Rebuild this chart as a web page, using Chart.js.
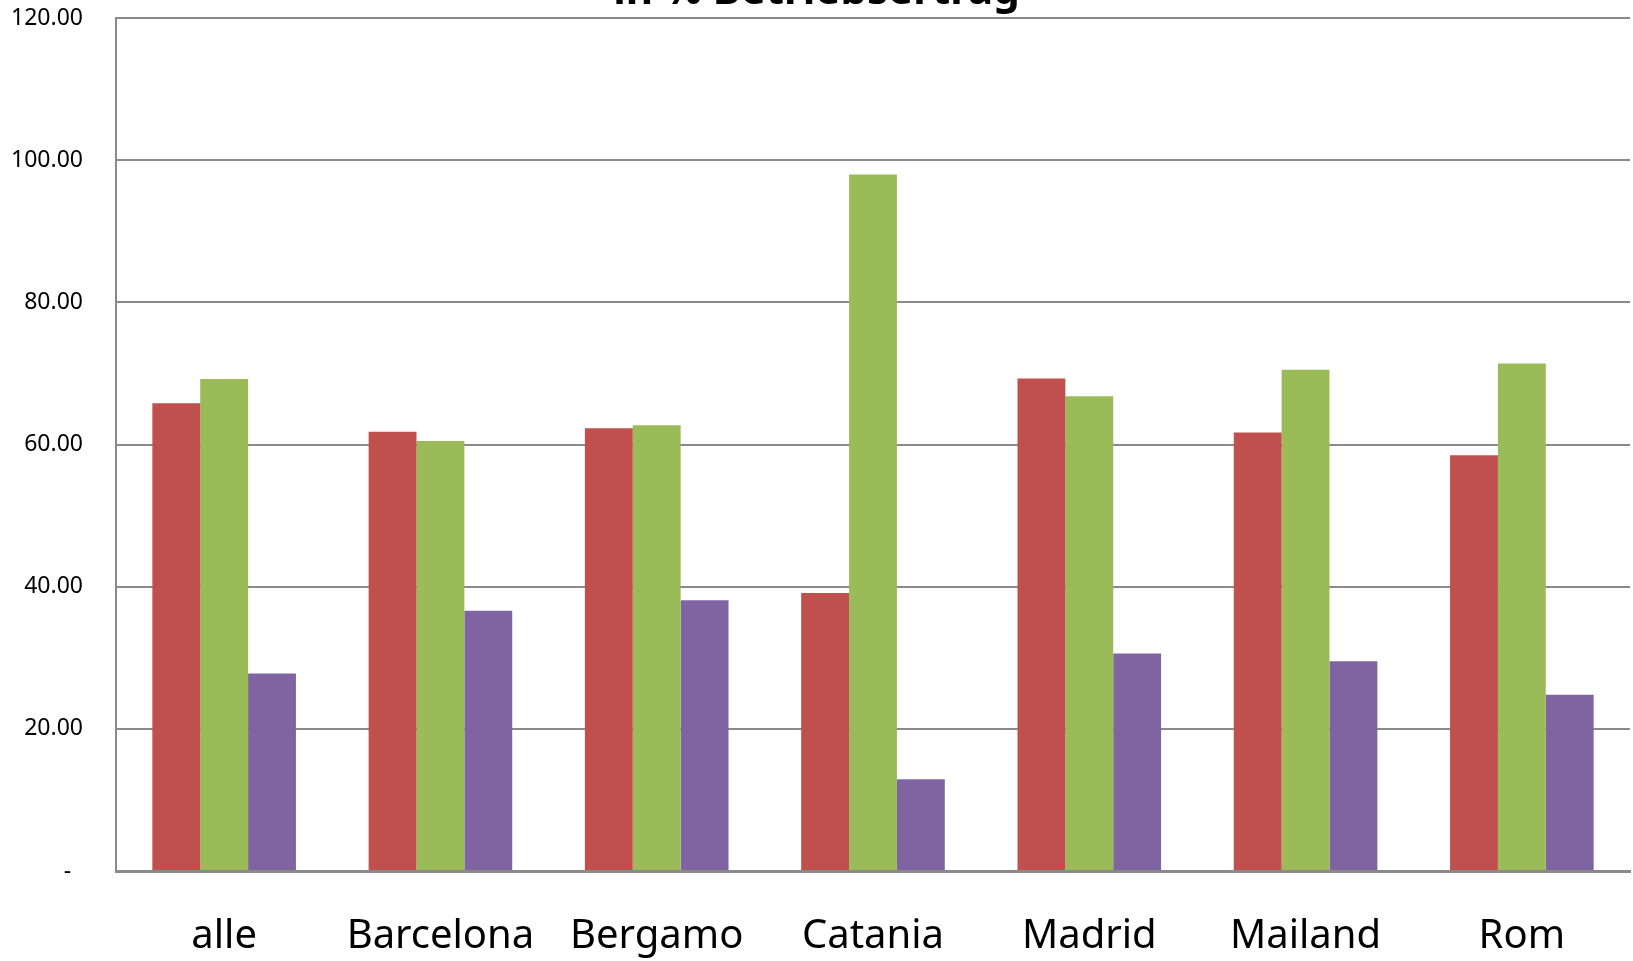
<!DOCTYPE html>
<html>
<head>
<meta charset="utf-8">
<script src="https://cdn.jsdelivr.net/npm/chart.js@4.4.1/dist/chart.umd.min.js"></script>
<style>
  html, body { margin: 0; padding: 0; background: #ffffff; }
  #wrap { width: 1633px; height: 961px; position: relative; }
</style>
</head>
<body>
<div id="wrap"><canvas id="chart" width="1633" height="961"></canvas></div>
<script>
// Anteile in % Betriebsertrag je Standort
const categories = ['alle', 'Barcelona', 'Bergamo', 'Catania', 'Madrid', 'Mailand', 'Rom'];
const seriesRed    = [65.8, 61.8, 62.3, 39.1, 69.3, 61.7, 58.5];
const seriesGreen  = [69.2, 60.5, 62.7, 98.0, 66.8, 70.5, 71.4];
const seriesPurple = [27.8, 36.6, 38.1, 12.9, 30.6, 29.5, 24.8];
const yTicks = [0, 20, 40, 60, 80, 100, 120];
const titleText = 'in % Betriebsertrag';

// Title sits at the very top edge of the canvas
const topTitle = {
  id: 'topTitle',
  afterDraw(chart) {
    const ctx = chart.ctx;
    ctx.save();
    ctx.font = 'bold 42px "Noto Sans"';
    ctx.fillStyle = '#000000';
    ctx.textAlign = 'center';
    ctx.textBaseline = 'alphabetic';
    ctx.fillText(titleText, chart.width / 2, 4);
    ctx.restore();
  }
};

const gridGray = '#8a8a8a';

new Chart(document.getElementById('chart'), {
  type: 'bar',
  data: {
    labels: categories,
    datasets: [
      { data: seriesRed,    backgroundColor: '#C0504D', borderWidth: 0 },
      { data: seriesGreen,  backgroundColor: '#9BBB59', borderWidth: 0 },
      { data: seriesPurple, backgroundColor: '#8064A2', borderWidth: 0 }
    ]
  },
  options: {
    responsive: false,
    animation: false,
    devicePixelRatio: 1,
    layout: { padding: { top: 18, right: 3, left: 0, bottom: 0 } },
    datasets: { bar: { barPercentage: 1.0, categoryPercentage: 0.664 } },
    plugins: {
      legend: { display: false },
      title: { display: false },
      tooltip: { enabled: false }
    },
    scales: {
      x: {
        grid: { display: false, drawTicks: false },
        border: { display: true, color: gridGray, width: 3 },
        ticks: {
          color: '#000000',
          font: { family: '"Noto Sans"', size: 40 },
          padding: 42,
          maxRotation: 0,
          autoSkip: false
        },
        afterFit(scale) {
          scale.height = 90;
          scale.paddingLeft = 0;
          scale.paddingRight = 0;
        }
      },
      y: {
        min: 0,
        max: 120,
        afterBuildTicks(scale) { scale.ticks = yTicks.map(v => ({ value: v })); },
        grid: { color: gridGray, lineWidth: 2, drawTicks: false },
        border: { display: true, color: gridGray, width: 2 },
        ticks: {
          color: '#000000',
          font: { family: '"Noto Sans"', size: 23 },
          padding: 33,
          callback(v) { return v === 0 ? '-  ' : Number(v).toFixed(2); }
        },
        afterFit(scale) {
          scale.width = 116;
          scale.paddingTop = 0;
          scale.paddingBottom = 0;
        }
      }
    }
  },
  plugins: [topTitle]
});
</script>
</body>
</html>
